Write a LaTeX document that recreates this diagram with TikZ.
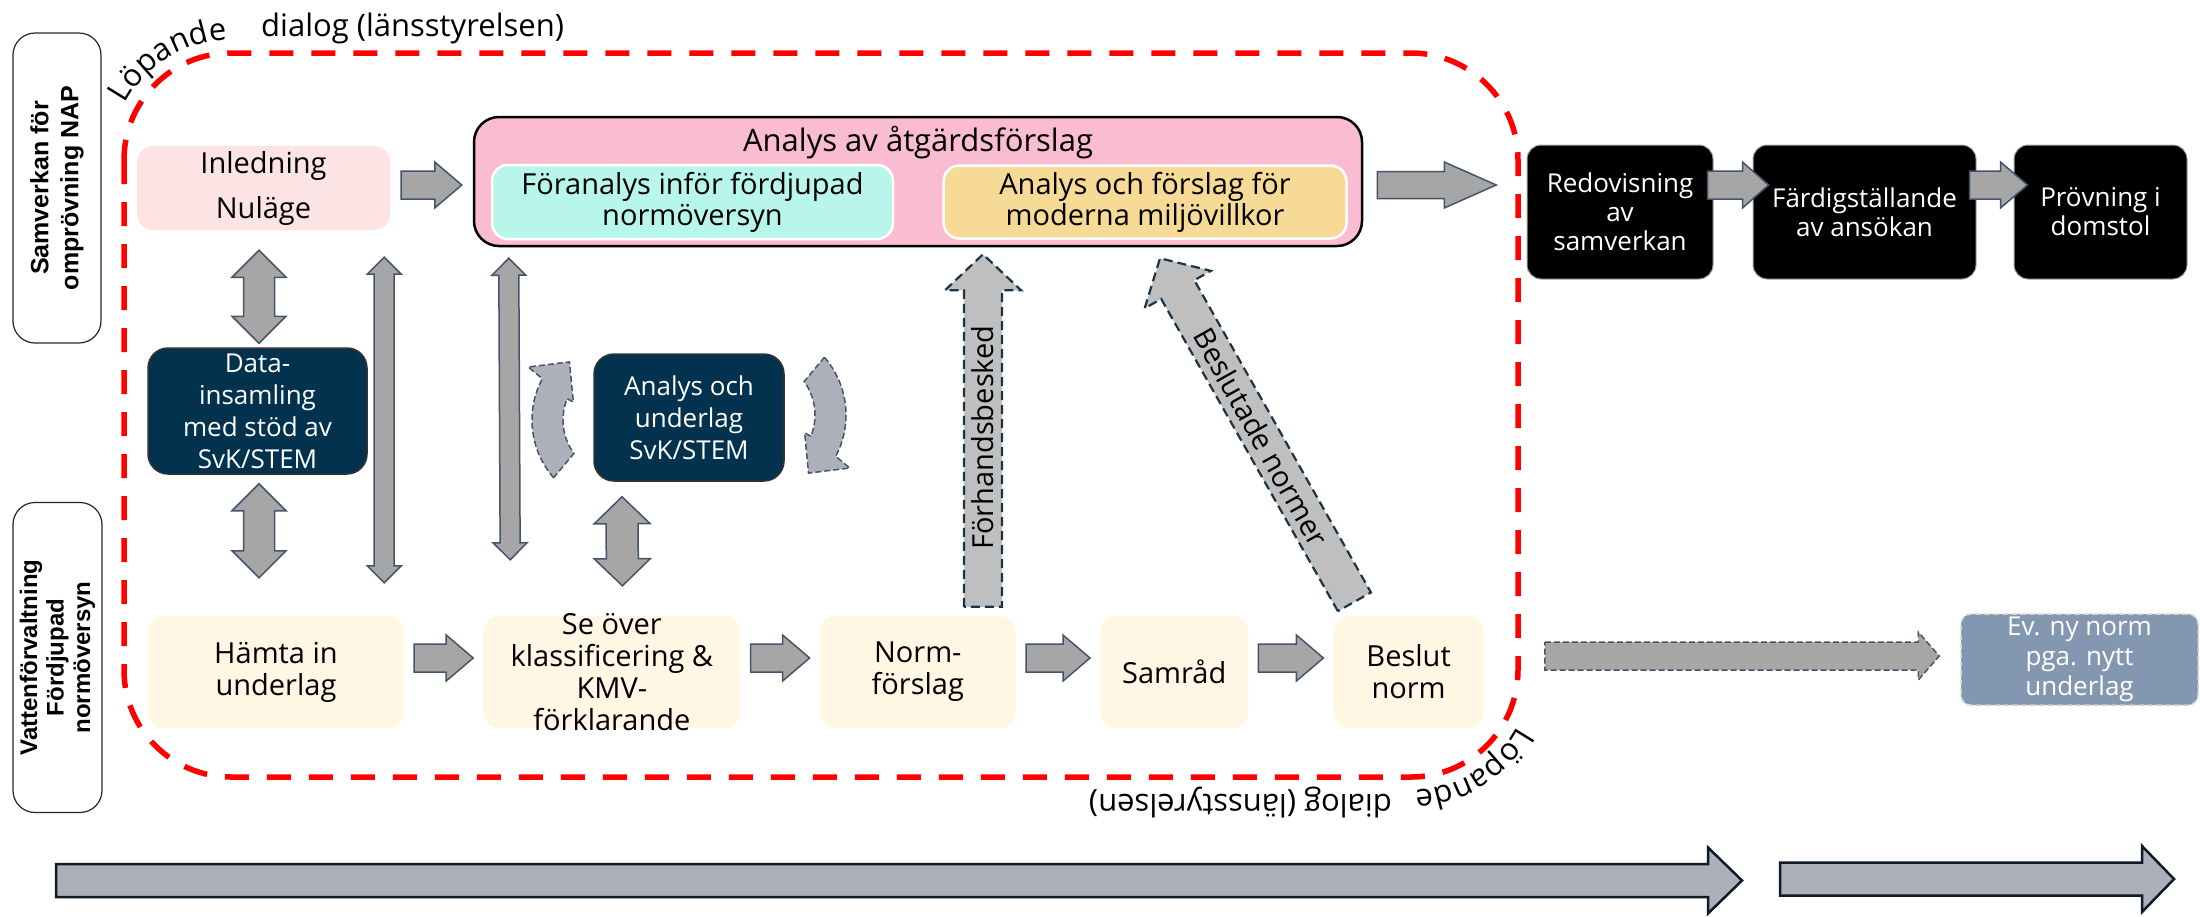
\documentclass[tikz,border=0pt]{standalone}
\usepackage{fontspec}
\setmainfont{Open Sans}
\newfontfamily\sidefont{Liberation Sans}
\usepackage{tikz}
\usetikzlibrary{calc,positioning,decorations.text}
\definecolor{dialogred}{HTML}{FF0000}
\definecolor{introrose}{HTML}{FDE4E4}
\definecolor{stepcream}{HTML}{FFF6E4}
\definecolor{analyspink}{HTML}{FABCD0}
\definecolor{preanmint}{HTML}{B8F6EC}
\definecolor{miljosand}{HTML}{F6DA96}
\definecolor{svknavy}{HTML}{03324F}
\definecolor{arrowgray}{HTML}{A6A6A6}
\definecolor{arrowedge}{HTML}{44546A}
\definecolor{loopgray}{HTML}{ADB0B8}
\definecolor{feedgray}{HTML}{BFBFBF}
\definecolor{feededge}{HTML}{1B3548}
\definecolor{nyblue}{HTML}{8497B0}
\definecolor{timeedge}{HTML}{0E1A28}
\newcommand\dialogfont{\fontsize{31}{31}\selectfont}
% block arrow: [style]{from}{to}{half shaft}{half head}{head length}
\newcommand\blockarrow[6][]{%
  \coordinate (bas) at (#2);
  \coordinate (bae) at (#3);
  \coordinate (bah) at ($(bae)!#6pt!(bas)$);
  \draw[#1] ($(bas)!#4pt!90:(bae)$) -- ($(bah)!#4pt!-90:(bas)$) -- ($(bah)!#5pt!-90:(bas)$) -- (bae)
    -- ($(bah)!#5pt!90:(bas)$) -- ($(bah)!#4pt!90:(bas)$) -- ($(bas)!#4pt!-90:(bae)$) -- cycle;
}
% double block arrow, same arguments
\newcommand\doublearrow[6][]{%
  \coordinate (das) at (#2);
  \coordinate (dae) at (#3);
  \coordinate (dah) at ($(das)!#6pt!(dae)$);
  \coordinate (dak) at ($(dae)!#6pt!(das)$);
  \draw[#1] (das) -- ($(dah)!#5pt!90:(dae)$) -- ($(dah)!#4pt!90:(dae)$) -- ($(dak)!#4pt!-90:(das)$)
    -- ($(dak)!#5pt!-90:(das)$) -- (dae) -- ($(dak)!#5pt!90:(das)$) -- ($(dak)!#4pt!90:(das)$)
    -- ($(dah)!#4pt!-90:(dae)$) -- ($(dah)!#5pt!-90:(dae)$) -- cycle;
}
\tikzset{
  sidebox/.style={rectangle,rounded corners=22pt,draw=black!85,line width=1.2pt,rotate=90,
    minimum width=310pt,minimum height=88pt,align=center,font=\sidefont\bfseries\fontsize{25}{30}\selectfont},
  softbox/.style={rectangle,rounded corners=16pt,fill=#1,align=center,inner sep=3pt,font=\fontsize{29}{32}\selectfont},
  softbox/.default=stepcream,
  subbox/.style={rectangle,rounded corners=16pt,draw=white,line width=2.5pt,fill=#1,align=center,
    inner sep=2pt,font=\fontsize{29}{31}\selectfont},
  darkbox/.style={rectangle,rounded corners=20pt,draw=black!80,line width=1.5pt,fill=svknavy,text=white,
    align=center,inner sep=2pt,font=\fontsize{26}{32}\selectfont},
  blackbox/.style={rectangle,rounded corners=14pt,draw=gray!70,line width=1pt,fill=black,text=white,
    align=center,inner sep=2pt,minimum height=134pt,font=\fontsize{26}{29}\selectfont},
  nybox/.style={rectangle,rounded corners=10pt,draw=gray!35,line width=1.5pt,dash pattern=on 6pt off 3pt,
    fill=nyblue,text=white,align=center,inner sep=2pt,font=\fontsize{26}{30}\selectfont},
  flowarrow/.style={fill=arrowgray,draw=arrowedge,line width=1.5pt},
  nyarrow/.style={fill=arrowgray,draw=arrowedge,line width=1.5pt,dash pattern=on 6pt off 3pt},
  feedarrow/.style={fill=feedgray,draw=feededge,line width=2.2pt,dash pattern=on 9pt off 5pt},
  looparrow/.style={fill=loopgray,draw=arrowedge,line width=1.5pt,dash pattern=on 6pt off 3pt},
  timearrow/.style={fill=loopgray,draw=timeedge,line width=2.5pt},
  lopdash/.style={draw=dialogred,line width=5.5pt,dash pattern=on 24pt off 18pt,rounded corners=107pt},
  dialogtext/.style={font=\dialogfont,inner sep=0pt},
  lopandetext/.style={decorate,decoration={text along path,text align=center,text={|\dialogfont|Löpande}}},
  arrowtext/.style={font=\fontsize{29}{29}\selectfont,inner sep=0pt}
}

\begin{document}
\begin{tikzpicture}[x=1pt,y=1pt]
\useasboundingbox (0,0) rectangle (2200,-916);

% running dialog frame
\draw[lopdash] (124,-53) rectangle (1518,-777);
\node[dialogtext,anchor=base west] (dialogtop) at (261,-36) {dialog (länsstyrelsen)};
\node[dialogtext,anchor=base west,rotate=180] (dialogbot) at (1392,-794) {dialog (länsstyrelsen)};
\path[shift={(231,-160)},lopandetext] (172:120) arc (172:72:120);
\path[shift={(1411,-670)},lopandetext] (352:120) arc (352:252:120);

% side labels
\node[sidebox] (samverkan) at (57,-188) {Samverkan för\\omprövning NAP};
\node[sidebox,minimum height=89pt,font=\sidefont\bfseries\fontsize{24}{26.5}\selectfont] (vatten) at (57.5,-657.5) {Vattenförvaltning\\Fördjupad\\normöversyn};

% top row
\node[softbox=introrose,minimum width=253pt,minimum height=84pt,font=\fontsize{29}{45}\selectfont] (inled) at (263.5,-188) {Inledning\\Nuläge};
\node[rectangle,rounded corners=25pt,draw=black,line width=2.5pt,fill=analyspink,minimum width=888pt,minimum height=129pt] (analys) at (918,-181.5) {};
\node[font=\dialogfont,anchor=base,inner sep=0pt] (analystitle) at ($(analys.north)+(0,-36)$) {Analys av åtgärdsförslag};
\node[subbox=preanmint,minimum width=401pt,minimum height=74pt] (foran) at (692.5,-202) {Föranalys inför fördjupad\\normöversyn};
\node[subbox=miljosand,minimum width=403pt,minimum height=73pt,right=48pt of foran] (miljo) {Analys och förslag för\\moderna miljövillkor};

\node[blackbox,minimum width=186pt] (redov) at (1620,-212) {Redovisning\\av\\samverkan};
\node[blackbox,minimum width=223pt,right=39pt of redov] (fardig) {Färdigställande\\av ansökan};
\node[blackbox,minimum width=173pt,right=37pt of fardig] (provn) {Prövning i\\domstol};

% support boxes
\node[darkbox,minimum width=219pt,minimum height=126pt] (data) at (257.5,-411) {Data-\\insamling\\med stöd av\\SvK/STEM};
\node[darkbox,minimum width=190pt,minimum height=127pt] (aou) at (689,-417.5) {Analys och\\underlag\\SvK/STEM};

% bottom row
\node[softbox,minimum width=256pt,minimum height=112pt] (hamta) at (276,-672) {Hämta in\\underlag};
\node[softbox,minimum width=257pt,minimum height=112pt,inner ysep=-4pt,right=79pt of hamta] (seover) {Se över\\klassificering \&\\KMV-\\förklarande};
\node[softbox,minimum width=196pt,minimum height=112pt,right=79pt of seover] (normf) {Norm-\\förslag};
\node[softbox,minimum width=148pt,minimum height=112pt,right=84pt of normf] (samrad) {Samråd};
\node[softbox,minimum width=150pt,minimum height=112pt,right=85pt of samrad] (beslut) {Beslut\\norm};
\node[nybox,minimum width=237pt,minimum height=91pt] (evny) at (2079.5,-659.5) {Ev. ny norm\\pga. nytt\\underlag};

% flow arrows
\blockarrow[flowarrow]{$(inled.east)+(11,3)$}{$(analys.west)+(-11,-3.5)$}{14}{23}{27}
\blockarrow[flowarrow]{$(analys.east)+(14,-3.5)$}{$(analys.east)+(133,-3.5)$}{13.5}{23}{52}
\blockarrow[flowarrow]{$(redov.east)+(-6,27)$}{$(fardig.west)+(16,27)$}{14}{23}{26}
\blockarrow[flowarrow]{$(fardig.east)+(-7,27)$}{$(provn.west)+(14,27)$}{14}{23}{27}
\foreach \a/\b in {hamta/seover,seover/normf,normf/samrad,samrad/beslut}{
  \blockarrow[flowarrow]{$(\a.east)+(10,14)$}{$(\b.west)+(-10,14)$}{14}{23}{27}
}
\blockarrow[nyarrow]{$(beslut.east)+(61,16)$}{$(evny.west)+(-21,3.5)$}{14}{24}{21}

% exchange arrows
\doublearrow[flowarrow]{$(data.north)+(1.5,4)$}{$(data.north)+(1.5,97)$}{15.5}{27}{27}
\doublearrow[flowarrow]{$(data.south)+(1.5,-9)$}{$(hamta.north)+(-17,38)$}{15.5}{27}{27}
\doublearrow[flowarrow]{$(hamta.north east)+(-20,33)$}{$(inled.south east)+(-6,-27)$}{10}{17}{17}
\doublearrow[flowarrow]{$(seover.north west)+(27,56)$}{$(analys.south west)+(36,-11)$}{10}{17}{17}
\doublearrow[flowarrow]{$(aou.south)+(-67,-15)$}{$(seover.north)+(10.5,30)$}{16}{28}{27}

% loop round the analysis
\coordinate (loopl) at ($(aou.center)+(-69,-2.5)$);
\coordinate (loopr) at ($(aou.center)+(69,2.5)$);
\draw[looparrow,shift={(loopl)}] (221:88) arc (221:152:88) -- (150:106) -- (131:77) -- (159:50) -- (158:57) arc (158:216:57) -- cycle;
\draw[looparrow,shift={(loopr)},rotate=180] (221:88) arc (221:152:88) -- (150:106) -- (131:77) -- (159:50) -- (158:57) arc (158:216:57) -- cycle;

% feedback to the analysis
\coordinate (fb0) at ($(normf.north east)+(-33,9)$);
\coordinate (fb1) at ($(fb0 |- analys.south)+(0,-7)$);
\blockarrow[feedarrow]{fb0}{fb1}{19}{38}{36}
\node[arrowtext,rotate=90] (fbtext) at ($(fb0)!0.48!(fb1)$) {Förhandsbesked};
\coordinate (bn0) at ($(beslut.north west)+(21,14)$);
\coordinate (bn1) at ($(analys.south)+(242,-11)$);
\blockarrow[feedarrow]{bn0}{bn1}{19}{38}{36}
\node[arrowtext,rotate=-60.8] (bntext) at ($(bn0)!0.48!(bn1)$) {Beslutade normer};

% time line
\coordinate (time1a) at (56,-880.5);
\coordinate (time1b) at (1742,-880.5);
\coordinate (time2a) at (1780,-879);
\coordinate (time2b) at (2174,-879);
\blockarrow[timearrow]{time1a}{time1b}{16.5}{33}{34}
\blockarrow[timearrow]{time2a}{time2b}{16.5}{33}{32}
\end{tikzpicture}
\end{document}
